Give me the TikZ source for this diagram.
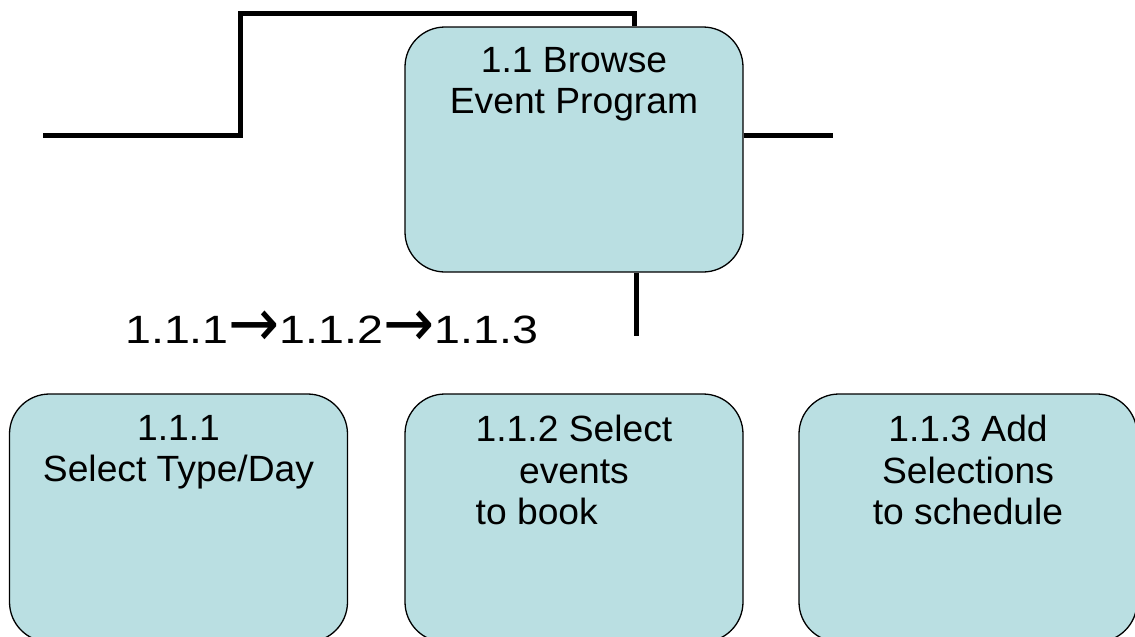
\documentclass[tikz,border=0pt]{standalone}
\usepackage{calc}
\usepackage{fontspec}
\setmainfont{Liberation Sans}
\newfontfamily\boxfont[FakeStretch=1.02]{Liberation Sans}
\newfontfamily\seqfont[FakeStretch=1.18]{Liberation Sans}
\newfontfamily\arrowfont{DejaVu Sans}
\newcommand{\seqarrow}{\raisebox{-3pt}{\scalebox{1.22}[1.35]{\arrowfont\fontsize{50}{50}\selectfont →}}}
\definecolor{boxfill}{RGB}{186,223,226}
\tikzset{
  procbox/.style={draw=black, line width=1.3pt, fill=boxfill, rounded corners=40pt,
    minimum width=338pt, inner sep=0pt},
  boxtext/.style={anchor=north, inner sep=0pt, align=center,
    font=\boxfont\fontsize{36.5}{41.5}\selectfont},
  flowline/.style={line width=5pt, line cap=butt, line join=miter}
}
\begin{document}
\begin{tikzpicture}[x=1pt, y=-1pt]
\clip (0,0) rectangle (1135,637);
\useasboundingbox (0,0) rectangle (1135,637);
% top box
\node[procbox, minimum height=245pt] (top) at (574,149.5) {};
\node[boxtext] (toptext) at (574,47) {1.1 Browse\\Event Program};
% bottom boxes
\node[procbox, minimum height=248pt] (b1) at (178.5,518) {};
\node[procbox, minimum height=248pt] (b2) at (574,518) {};
\node[procbox, minimum height=248pt] (b3) at (968,518) {};
\node[boxtext] (b1text) at (178.5,415) {1.1.1\\Select Type/Day};
\node[boxtext, align=left] (b2text) at (574,415) {1.1.2 Select\\\makebox[\widthof{1.1.2 Select}][c]{events}\\to book};
\node[boxtext] (b3text) at (968,415) {1.1.3 Add\\Selections\\to schedule};
% sequence label
\node[anchor=base west, inner sep=0pt, font=\seqfont\fontsize{39.5}{48}\selectfont] (seq) at (125,343)
  {1.1.1\seqarrow1.1.2\seqarrow1.1.3};
% connectors
\coordinate (leftend) at (43,135);
\coordinate (bend) at (240,135);
\draw[flowline] (leftend) -- (bend) |- (634,13) -- ([xshift=60pt]top.north);
\draw[flowline] ([yshift=14.5pt]top.east) -- ++(89,0);
\draw[flowline] ([xshift=62pt]top.south) -- ++(0,63);
\end{tikzpicture}
\end{document}
